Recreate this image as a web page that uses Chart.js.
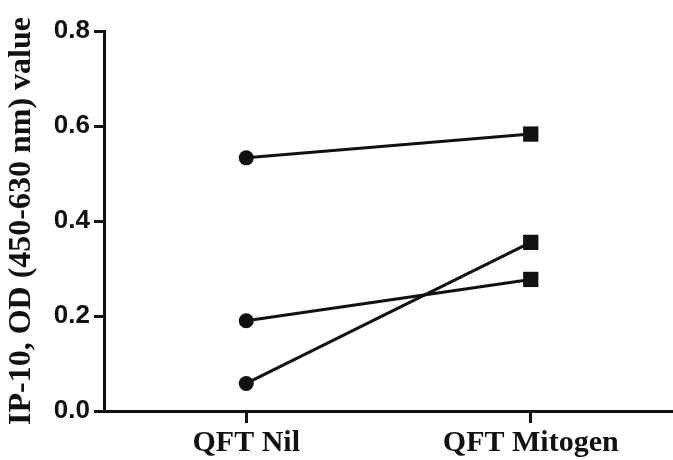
<!DOCTYPE html>
<html>
<head>
<meta charset="utf-8">
<script src="https://cdn.jsdelivr.net/npm/chart.js@4/dist/chart.umd.min.js"></script>
<style>
  body { margin: 0; background: #fff; }
  #wrap { width: 673px; height: 460px; }
</style>
</head>
<body>
<div id="wrap"><canvas id="myChart" width="673" height="460"></canvas></div>
<script>
// categories on the x axis
var categories = ['QFT Nil', 'QFT Mitogen'];
// paired values, one entry per subject
var nilValues = [0.533, 0.190, 0.058];
var mitogenValues = [0.583, 0.277, 0.355];
var yTicks = [0.0, 0.2, 0.4, 0.6, 0.8];
var yTitle = 'IP-10, OD (450-630 nm) value';

// let the plot run up to the right edge, like the original figure
Chart.LineController.prototype.getMaxOverflow = function() { return 0; };

var datasets = [];
for (let i = 0; i < nilValues.length; ++i) {
  datasets.push({
    data: [nilValues[i], mitogenValues[i]],
    borderColor: '#111',
    backgroundColor: '#111',
    borderWidth: 3,
    pointStyle: ['circle', 'rect'],
    pointRadius: [7.5, 10.8],
    pointBorderWidth: 0,
    fill: false,
    tension: 0
  });
}

var ctx = document.getElementById('myChart').getContext('2d');
new Chart(ctx, {
  type: 'line',
  data: {
    labels: categories,
    datasets: datasets
  },
  options: {
    responsive: false,
    animation: false,
    devicePixelRatio: 1,
    layout: { padding: { top: 31, right: 0, bottom: 0, left: 0 } },
    plugins: {
      legend: { display: false },
      tooltip: { enabled: false }
    },
    scales: {
      x: {
        offset: true,
        grid: {
          drawOnChartArea: false,
          drawTicks: true,
          tickLength: 12,
          tickWidth: 3,
          tickColor: '#111'
        },
        border: { display: true, color: '#111', width: 3 },
        ticks: {
          color: '#111',
          padding: 2,
          maxRotation: 0,
          font: { family: 'Liberation Serif', weight: 'bold', size: 30 }
        },
        afterFit: function(scale) { scale.height = 49; }
      },
      y: {
        min: 0,
        max: 0.8,
        afterBuildTicks: function(scale) {
          scale.ticks = yTicks.map(function(v) { return { value: v }; });
        },
        grid: {
          drawOnChartArea: false,
          drawTicks: true,
          tickLength: 10,
          tickWidth: 3,
          tickColor: '#111'
        },
        border: { display: true, color: '#111', width: 3 },
        ticks: {
          color: '#111',
          padding: 4,
          font: { family: 'Liberation Sans', weight: 'bold', size: 26 },
          callback: function(v) { return Number(v).toFixed(1); }
        },
        title: {
          display: true,
          text: yTitle,
          color: '#111',
          padding: { top: 3, bottom: 0 },
          font: { family: 'Liberation Serif', weight: 'bold', size: 32 }
        },
        afterFit: function(scale) { scale.width = 104; }
      }
    }
  }
});
</script>
</body>
</html>
